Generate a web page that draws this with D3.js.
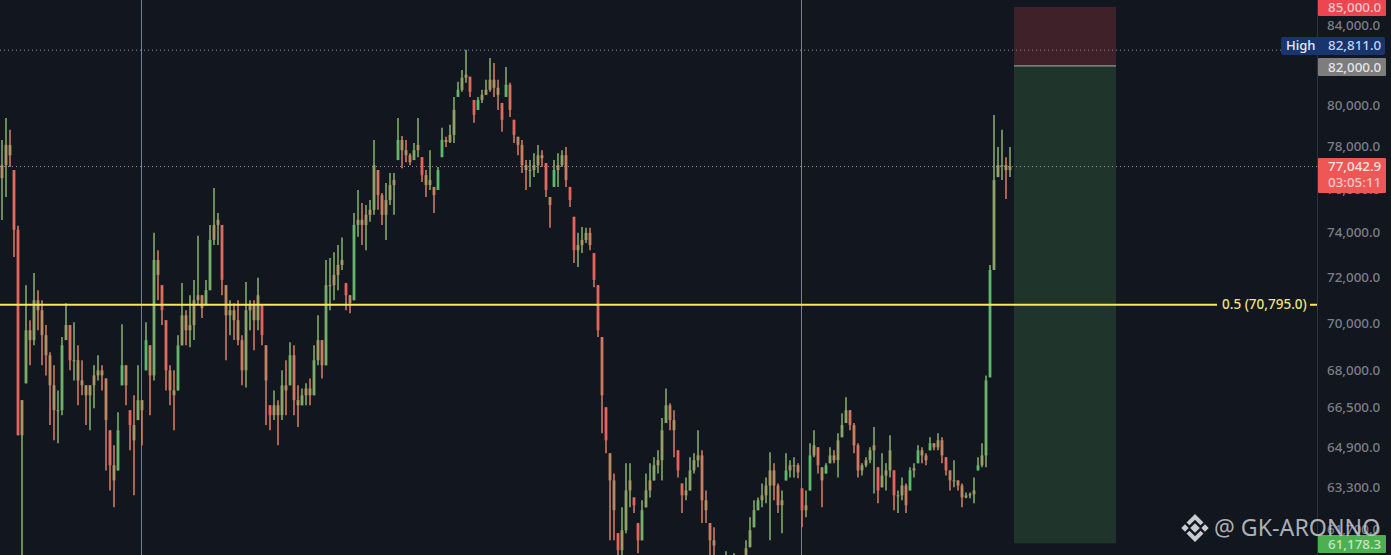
<!DOCTYPE html>
<html>
<head>
<meta charset="utf-8">
<script src="https://cdn.jsdelivr.net/npm/d3@7"></script>
<style>
  html, body { margin: 0; padding: 0; background: #12161f; overflow: hidden; }
  text { font-family: "Noto Sans", sans-serif; }
</style>
</head>
<body>
<svg id="chart" width="1391" height="555"></svg>
<script>
// hourly bars
var firstOpen = 76500;
var highs = [
  78310,79370,78800,76880,74300,66780,71650,70130,72190,71430,
  70990,69920,68770,68220,67180,69410,70860,69920,70040,69060,
  68430,67390,67390,68220,68640,68220,67670,65560,64960,66290,
  69960,68220,66370,66980,68220,66780,70040,69060,73980,73200,
  71650,70130,68220,68010,69490,71740,70560,71210,71880,73850,
  71210,71880,74340,76040,74890,74340,71650,70990,70860,70990,
  69490,71790,70990,70990,71970,70770,69060,66570,67180,66780,
  68010,68430,69190,69060,67390,67260,67470,67670,69060,70340,
  69280,72760,72850,73110,73430,73770,71740,71210,74890,75950,
  75340,75250,75480,78310,76880,75810,76270,76740,76740,79370,
  78500,78310,77680,78160,79370,77490,76880,77820,76090,77020,
  78900,78460,79040,80400,81150,81740,82750,81400,80250,80400,
  80750,81250,82340,82090,81250,80100,81890,81100,79280,78460,
  78310,77350,77350,77680,78070,77820,77210,75620,77350,77680,
  77820,77970,76090,74710,73980,74250,74210,74210,73070,71650,
  69410,66490,64640,63850,61560,62540,64250,64250,62920,61940,
  62810,63850,64250,64490,64760,66050,67260,66650,66370,64760,
  63460,63690,64490,64640,65560,64760,63190,61940,61780,60700,
  60700,60880,60630,60810,60630,60700,61290,62160,62810,62920,
  63460,63690,64680,64250,63460,63190,64640,64370,64490,64250,
  63270,63190,65040,65560,64880,64090,64250,64880,64760,65440,
  66250,66900,66370,65850,65040,64250,64490,64880,65690,64090,
  64640,64250,65360,63970,63190,63690,63460,64090,64250,64960,
  64880,64640,65280,65040,65440,65280,64490,63970,64370,63580,
  63460,63110,63110,63690,64490,65040,67800,72540,79520,77970,
  78800,77490,77970
];
var lows = [
  74570,75620,77020,72890,65360,60740,67470,68220,69060,69700,
  68220,67800,65770,65160,65040,66170,69280,68010,67590,66570,
  66980,65770,65560,66450,67590,67180,63970,63190,62540,63970,
  67390,66570,64760,63000,65970,64960,68010,66170,67590,70990,
  69920,67180,66570,65560,67180,69060,69060,68980,69280,70770,
  70220,70770,71430,73430,73430,71210,68430,69490,69280,69060,
  67390,67300,69700,68850,69700,69060,65770,65560,65970,64960,
  65970,66170,67390,66170,65690,66570,66570,66570,66980,68220,
  67670,68220,70560,70990,71430,72320,70560,70430,70990,73800,
  73430,73200,74480,74800,75030,74340,73660,75250,74800,77350,
  76970,77250,77110,77350,77490,76320,75620,75950,74890,75950,
  77490,77970,78160,78160,80400,80650,81100,80400,79140,79760,
  80100,80500,80650,80400,79760,78700,80400,79420,78160,77580,
  76740,75950,76090,76550,76740,77020,75620,74210,76090,76090,
  77020,76090,75160,72630,72450,73070,73520,73200,71560,69410,
  65440,64640,61290,61290,60180,60360,61560,62540,62320,60810,
  61290,62540,62920,63580,63850,63580,65850,65560,64490,63690,
  62320,62810,63190,63850,64090,61940,61940,60180,60180,60180,
  60100,60180,60000,60180,60100,60180,60360,61030,61780,62430,
  62540,62700,61290,62810,62320,61560,63580,63690,63690,63660,
  61780,62160,63190,64490,63850,62540,63850,64250,64250,63690,
  65280,65850,65560,64640,63690,63770,64090,64250,63070,62700,
  63310,63190,63690,62430,62320,62810,62320,63190,63690,64250,
  64250,64170,64760,64760,64760,64250,63770,63190,63310,63190,
  62540,62890,62890,62700,63970,64090,64090,67720,72320,76550,
  76410,75530,76550
];
var closes = [
  77110,78070,77580,74120,65360,66780,69700,69280,70990,70560,
  69490,68640,67390,66370,66370,69060,69920,68430,68430,67590,
  67390,66980,67390,67800,68010,67800,65970,64170,63580,65560,
  68220,67390,65770,65160,66780,66370,69280,67800,72760,72100,
  70560,68010,67180,66980,69060,70340,69700,69920,70990,71210,
  70650,71430,73660,74340,74570,71880,70340,70560,70130,69280,
  68010,70560,70770,70130,71210,69490,67590,66170,66570,66170,
  67390,67180,68640,66780,66570,66980,67260,66980,68430,69280,
  68220,71650,71650,72100,72540,72760,71210,70860,74340,74570,
  74340,74800,75030,77110,75710,74800,75480,76180,76410,78310,
  77820,77580,77250,77820,78070,76640,76180,76410,75710,76880,
  78310,78210,78550,79760,80750,81350,81500,80650,79520,80250,
  80500,80750,81250,80850,80500,79280,81000,79760,78550,78070,
  77110,76880,76880,77110,77580,77440,75950,75250,76880,77110,
  77580,76410,75480,73200,73430,73660,73980,73430,71880,69700,
  66980,65160,63580,62430,60920,61670,63190,63580,62620,61290,
  62430,63190,63580,64170,64370,65560,66570,65970,65560,63970,
  63000,63190,63970,64370,64560,62810,62430,61290,61100,60360,
  60360,60550,60360,60550,60360,60550,60990,61670,62430,62810,
  63000,63380,63970,63380,62620,62810,63970,64170,64170,63890,
  62430,62620,64560,64960,64170,63580,64170,64560,64370,65160,
  65770,66370,65770,64960,63970,64170,64370,64760,64960,63190,
  63770,63970,64760,63000,63000,63380,62620,63970,64050,64760,
  64560,64370,65040,64880,65160,64560,63970,63580,63580,63380,
  62920,63000,63040,63190,64170,64560,67590,72320,76410,77110,
  77110,76880,77042.9
];
var axisTicks = [84000,80000,78000,76000,74000,72000,70000,68000,66500,64900,63300,61700];
var sessionBars = [34.875, 199.875];   // vertical session lines, in bar numbers
var priceTop = 85000;
var priceEntry = 82000;
var priceLow = 61178.3;
var priceHigh = 82811;
var priceLast = 77042.9;
var fibLevel = 70795;
var countdown = "03:05:11";

var fmt = d3.format(",.1f");
var svg = d3.select("#chart");

var x = d3.scaleLinear().domain([0, closes.length - 1]).range([2, 1010]);
var y = d3.scaleLog().domain([priceLow, priceTop]).range([543.3, 6]);

var red = "#e8625c", green = "#5cba6c", tan = "#ad9663";
var barColor = d3.scaleLinear().domain([-1, -0.3, 0.3, 1]).range([red, tan, tan, green]).clamp(true);
var wickColor = d3.scaleLinear().domain([0, 1]).range([tan, green]);
var wickRed = d3.scaleLinear().domain([0, 1]).range([tan, red]);

var defs = svg.append("defs");
defs.append("filter").attr("id", "soft").attr("x", "-5%").attr("y", "-5%").attr("width", "110%").attr("height", "110%")
  .append("feGaussianBlur").attr("stdDeviation", 0.45);

svg.append("rect").attr("width", 1391).attr("height", 555).attr("fill", "#12161f");

// position box
var entryY = y(priceEntry) + 1.2;
svg.append("rect").attr("x", 1014).attr("width", 102)
  .attr("y", y(priceTop) + 1).attr("height", entryY - y(priceTop) - 1)
  .attr("fill", "#3e2129");
svg.append("rect").attr("x", 1014).attr("width", 102)
  .attr("y", entryY).attr("height", y(priceLow) - entryY)
  .attr("fill", "#1f352b");
svg.append("line").attr("x1", 1014).attr("x2", 1116)
  .attr("y1", entryY).attr("y2", entryY)
  .attr("stroke", "#a9b3ad").attr("stroke-width", 1);

// dotted lines
svg.append("line").attr("x1", 0).attr("x2", 1281)
  .attr("y1", y(priceHigh) + 1.5).attr("y2", y(priceHigh) + 1.5)
  .attr("stroke", "#8d93a3").attr("stroke-width", 1).attr("stroke-dasharray", "1 3");
svg.append("line").attr("x1", 0).attr("x2", 1317)
  .attr("y1", y(priceLast)).attr("y2", y(priceLast))
  .attr("stroke", "#b98d8c").attr("stroke-width", 1).attr("stroke-dasharray", "1 3");

// session lines
svg.selectAll(".session").data(sessionBars).enter().append("line")
  .attr("class", "session")
  .attr("x1", function(d) { return x(d); }).attr("x2", function(d) { return x(d); })
  .attr("y1", 0).attr("y2", 555)
  .attr("stroke", "#4f9f6a").attr("stroke-width", 1);

// bars
var bars = d3.range(closes.length).map(function(i) {
  return { i: i, h: highs[i], l: lows[i], c: closes[i], o: i ? closes[i - 1] : firstOpen };
});

var barLayer = svg.append("g").attr("filter", "url(#soft)");

barLayer.append("g").selectAll("line").data(bars).enter().append("line")
  .attr("x1", function(d) { return x(d.i); }).attr("x2", function(d) { return x(d.i); })
  .attr("y1", function(d) { return y(d.h); }).attr("y2", function(d) { return y(d.l); })
  .attr("stroke", function(d) { return d.c >= d.o ? wickColor(0.55) : wickRed(0.55); })
  .attr("stroke-width", 1.6);

barLayer.append("g").selectAll("rect").data(bars).enter().append("rect")
  .attr("x", function(d) { return x(d.i) - 1.4; }).attr("width", 2.8)
  .attr("y", function(d) { return y(Math.min(d.h, Math.max(d.o, d.c))); })
  .attr("height", function(d) {
    return Math.max(1, y(Math.max(d.l, Math.min(d.o, d.c))) - y(Math.min(d.h, Math.max(d.o, d.c))));
  })
  .attr("fill", function(d) { return barColor((d.c - d.o) / (d.h - d.l)); });

// fib level
svg.append("line").attr("x1", 0).attr("x2", 1217)
  .attr("y1", y(fibLevel)).attr("y2", y(fibLevel))
  .attr("stroke", "#f6ea5a").attr("stroke-width", 2.2);
svg.append("line").attr("x1", 1310).attr("x2", 1317)
  .attr("y1", y(fibLevel)).attr("y2", y(fibLevel))
  .attr("stroke", "#f6ea5a").attr("stroke-width", 2);
svg.append("text").attr("x", 1222).attr("y", y(fibLevel) + 4.7)
  .attr("fill", "#efe37a").attr("font-size", 13.5).attr("font-weight", 500)
  .text("0.5 (" + fmt(fibLevel) + ")");

// price axis
svg.append("line").attr("x1", 1317.5).attr("x2", 1317.5).attr("y1", 0).attr("y2", 555)
  .attr("stroke", "#2f333d");
var axis = svg.append("g").attr("transform", "translate(1317,0)")
  .call(d3.axisRight(y).tickValues(axisTicks).tickFormat(fmt).tickSize(0).tickPadding(10));
axis.select(".domain").remove();
axis.selectAll("text").attr("fill", "#7b7e88").attr("font-size", 13.4)
  .attr("font-family", "Noto Sans").attr("font-weight", 500);

function priceTag(top, h, fill, color, label) {
  svg.append("rect").attr("x", 1318).attr("y", top).attr("width", 68).attr("height", h)
    .attr("rx", 1).attr("fill", fill);
  svg.append("text").attr("x", 1328).attr("y", top + h / 2 + 4.7)
    .attr("fill", color).attr("font-size", 13.4).attr("font-weight", 500).text(label);
}

priceTag(-2, 18, "#ee4650", "#f8c8c8", fmt(priceTop));
svg.append("rect").attr("x", 1281).attr("y", 37).attr("width", 104).attr("height", 18)
  .attr("rx", 2).attr("fill", "#18356d");
svg.append("text").attr("x", 1286).attr("y", 50).attr("fill", "#e8edf7")
  .attr("font-size", 13).attr("font-weight", 500).text("High");
svg.append("text").attr("x", 1328).attr("y", 50).attr("fill", "#c5d2ea")
  .attr("font-size", 13.4).attr("font-weight", 500).text(fmt(priceHigh));
priceTag(58, 18, "#7d7d7d", "#e4e4e4", fmt(priceEntry));

svg.append("rect").attr("x", 1318).attr("y", 158).attr("width", 68).attr("height", 35)
  .attr("rx", 1).attr("fill", "#ef5656");
svg.append("text").attr("x", 1328).attr("y", 171).attr("fill", "#fbe3e3")
  .attr("font-size", 13.4).attr("font-weight", 500).text(fmt(priceLast));
svg.append("text").attr("x", 1328).attr("y", 187).attr("fill", "#f8c9c9")
  .attr("font-size", 13.4).attr("font-weight", 500).text(countdown);

priceTag(535, 18, "#4caf50", "#c5e6c6", fmt(priceLow));

// watermark
var mark = svg.append("g").attr("transform", "translate(1195,528)").attr("fill", "#c9ccd1");
[[0, 0, 3.4], [-10, 0, 2.6], [10, 0, 2.6]].forEach(function(p) {
  mark.append("rect").attr("x", -p[2]).attr("y", -p[2]).attr("width", 2 * p[2]).attr("height", 2 * p[2])
    .attr("transform", "translate(" + p[0] + "," + p[1] + ") rotate(45)");
});
mark.append("path").attr("d", "M0,-14 L8.5,-5.5 L5.5,-2.8 L0,-8.3 L-5.5,-2.8 L-8.5,-5.5 Z");
mark.append("path").attr("d", "M0,14 L8.5,5.5 L5.5,2.8 L0,8.3 L-5.5,2.8 L-8.5,5.5 Z");
svg.append("text").attr("x", 1214).attr("y", 536).attr("fill", "#c9ccd1").attr("fill-opacity", 0.85)
  .attr("font-size", 23.2).text("@ GK-ARONNO");
</script>
</body>
</html>
